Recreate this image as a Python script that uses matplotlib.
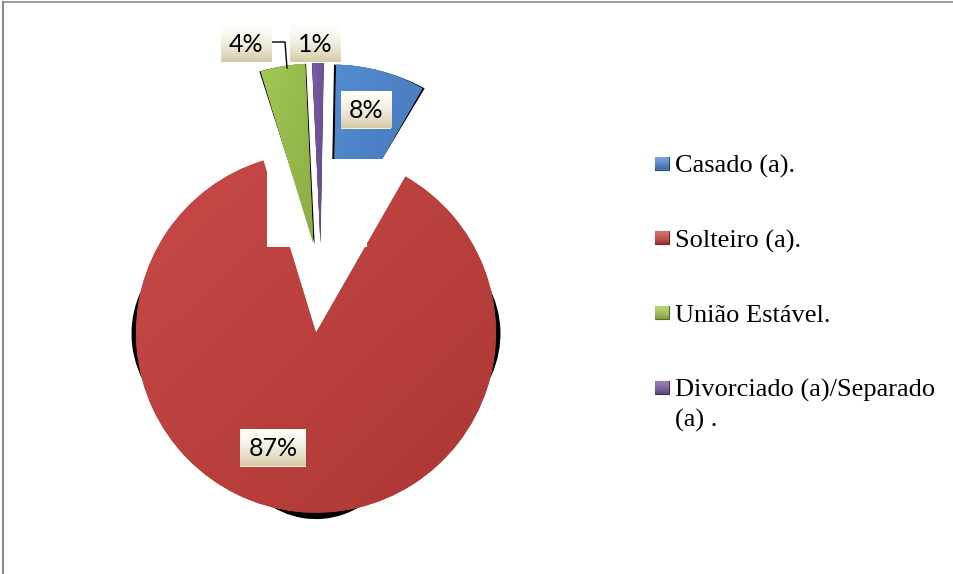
import numpy as np
import matplotlib.pyplot as plt
from matplotlib.colors import to_rgb
from matplotlib.patches import PathPatch, Polygon, Rectangle
from matplotlib.transforms import Affine2D

categories = ["Casado (a).", "Solteiro (a).", "União Estável.",
              "Divorciado (a)/Separado\n(a) ."]
percent = [8, 87, 4, 1]
colors = ["#4A85CE", "#C43E3B", "#9CC44B", "#7252A0"]

# canvas in pixels: one data unit is one pixel, y measured from the top via H - y
W, H = 954, 574
center = (321, H - 288)
radius = 180
label_xy = [(366, 109.5), (273, 447.5), (246, 43), (315.5, 43)]


def shade(c, f):
    c = np.array(to_rgb(c))
    if f < 1:
        return np.clip(c * f, 0, 1)
    return np.clip(c + (1 - c) * (f - 1), 0, 1)


def outline(patch):
    return patch.get_patch_transform().transform_path(patch.get_path())


def gradient_fill(ax, patch, top, bottom, diagonal=True, z=2):
    (x0, y0), (x1, y1) = outline(patch).get_extents().get_points()
    gx, gy = np.meshgrid(np.linspace(0, 1, 64), np.linspace(0, 1, 64))
    t = (gx + gy) / 2 if diagonal else gy ** 1.6
    img = top[None, None, :] * (1 - t[..., None]) + bottom[None, None, :] * t[..., None]
    im = ax.imshow(img, extent=(x0, x1, y0, y1), origin="upper",
                   interpolation="bilinear", zorder=z)
    im.set_clip_path(patch)
    return im


def scaled(path, sx, sy, cx, cy, dy=0):
    tr = Affine2D().translate(-cx, -cy).scale(sx, sy).translate(cx, cy + dy)
    return tr.transform_path(path)


fig = plt.figure(figsize=(W / 100, H / 100), dpi=100)
ax = fig.add_axes([0, 0, 1, 1])

wedges, _ = ax.pie(percent, colors=colors, startangle=89, counterclock=False,
                   explode=[45] * len(percent), radius=radius, center=center,
                   wedgeprops=dict(linewidth=0))

for w, c, p in zip(wedges, colors, percent):
    # thin slices stay in front of the white panel
    z = 4 if p < 5 else 2
    w.set_zorder(z)
    path = outline(w)
    (x0, y0), (x1, y1) = path.get_extents().get_points()
    cx, cy = (x0 + x1) / 2, (y0 + y1) / 2

    # dark side walls of the 3-D slices
    if (270 - w.theta1) % 360 <= w.theta2 - w.theta1:
        # slice reaching the front: tapered left/right rims plus a front rim
        ax.add_patch(PathPatch(scaled(path, 1.025, 0.75, cx, cy),
                               fc="black", lw=0, zorder=z - 0.5))
        rim = ax.add_patch(PathPatch(scaled(path, 0.68, 1.025, cx, cy, -2),
                                     fc="black", lw=0, zorder=z - 0.5))
        lower = Rectangle((x0 - 20, y0 - 20), x1 - x0 + 40, w.center[1] - y0 + 20,
                          transform=ax.transData)
        rim.set_clip_path(lower)
    else:
        ax.add_patch(PathPatch(scaled(path, 1.05, 1.0, cx, cy),
                               fc="black", lw=0, zorder=z - 0.5))

    gradient_fill(ax, w, shade(c, 1.06), shade(c, 0.88), z=z + 0.1)

# white panel over the inner corners of the two large slices
panel = [(267, 159), (387, 159), (387, 205), (367, 205), (367, 247), (267, 247)]
ax.add_patch(Polygon([(x, H - y) for x, y in panel], closed=True,
                     fc="white", lw=0, zorder=3))

# percentage labels in cream boxes
texts = []
for p, (lx, ly) in zip(percent, label_xy):
    t = ax.text(lx, H - ly - 9, f"{p}%", ha="center", va="baseline",
                fontsize=18, family="Lato", color="black", zorder=7)
    texts.append(t)

fig.canvas.draw()
for t, (lx, ly) in zip(texts, label_xy):
    bb = t.get_window_extent()
    bw, bh = bb.width + 16, 38
    box = Rectangle((lx - bw / 2, H - ly - bh / 2), bw, bh, fc="#F4F0E2", lw=0, zorder=6)
    ax.add_patch(box)
    gradient_fill(ax, box, np.array(to_rgb("#FFFEFA")), np.array(to_rgb("#D5C9A6")),
                  diagonal=False, z=6.1)

# leader line from the 4% label down to its slice
ax.plot([271, 285, 287], [H - 42, H - 42, H - 68], color="black", lw=1, zorder=5)

# legend
for i, (name, c) in enumerate(zip(categories, colors)):
    yc = 163 + i * 74.7
    mk = Rectangle((655, H - yc - 6.5), 14, 13, fc=c, ec=shade(c, 0.55), lw=0.8, zorder=5)
    ax.add_patch(mk)
    gradient_fill(ax, mk, shade(c, 1.25), shade(c, 0.8), diagonal=False, z=5.1)
    for j, line in enumerate(name.split("\n")):
        ax.text(675, H - (yc + 9.5 + j * 30), line, family="Liberation Serif",
                fontsize=19, va="baseline", ha="left", color="black")

# chart frame (top and left edges)
ax.plot([3.5, 3.5], [0, H - 1.5], color="#8A8A8A", lw=1.5, zorder=8)
ax.plot([3.5, W], [H - 1.5, H - 1.5], color="#8A8A8A", lw=1.2, zorder=8)

ax.set_xlim(0, W)
ax.set_ylim(0, H)
ax.set_aspect("equal")
ax.axis("off")

fig.savefig("out.png", dpi=100, facecolor="white")
